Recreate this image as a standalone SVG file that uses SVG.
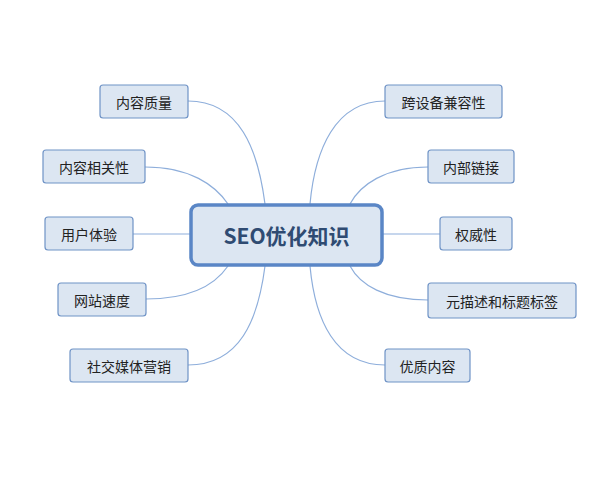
<svg xmlns="http://www.w3.org/2000/svg" width="600" height="488" viewBox="0 0 600 488">
<style>
.n rect{fill:#dce6f2;stroke:#6f93c6;stroke-width:1.2}
.n text{font-family:"Noto Sans CJK SC","Liberation Sans",sans-serif;font-size:14px;fill:#222;text-anchor:middle;dominant-baseline:central}
#connectors path{fill:none;stroke:#8eaedb;stroke-width:1.2}
</style>
<rect width="600" height="488" fill="#fff"/>
<g id="connectors">
<path d="M188,101 C240,101 258,150 265,204"/>
<path d="M145,167 C190,167 215,185 228,204"/>
<path d="M133,234 L190,234"/>
<path d="M146,299 C190,299 215,285 228,266"/>
<path d="M188,365 C240,365 258,320 265,266"/>
<path d="M385,101 C335,101 315,150 310,204"/>
<path d="M428,167 C385,167 360,185 350,204"/>
<path d="M383,234 L440,234"/>
<path d="M428,300 C385,300 360,285 350,266"/>
<path d="M385,365 C335,365 315,320 310,266"/>
</g>
<g id="center">
<rect x="191" y="205" width="191" height="60" rx="7" fill="#dce6f2" stroke="#5a86c6" stroke-width="3.5"/>
<text x="286.5" y="235" font-family="'Noto Sans CJK SC','Liberation Sans',sans-serif" font-size="21" font-weight="bold" fill="#2f4b72" text-anchor="middle" dominant-baseline="central">SEO优化知识</text>
</g>
<g id="n1" class="n"><rect x="100" y="85" width="88" height="33" rx="3"/><text x="144" y="101.5">内容质量</text></g>
<g id="n2" class="n"><rect x="43" y="150" width="102" height="33" rx="3"/><text x="94" y="166.5">内容相关性</text></g>
<g id="n3" class="n"><rect x="45" y="217" width="88" height="33" rx="3"/><text x="89" y="233.5">用户体验</text></g>
<g id="n4" class="n"><rect x="58" y="283" width="88" height="33" rx="3"/><text x="102" y="299.5">网站速度</text></g>
<g id="n5" class="n"><rect x="70" y="349" width="118" height="33" rx="3"/><text x="129" y="365.5">社交媒体营销</text></g>
<g id="n6" class="n"><rect x="385" y="85" width="117" height="33" rx="3"/><text x="443.5" y="101.5">跨设备兼容性</text></g>
<g id="n7" class="n"><rect x="428" y="150" width="86" height="33" rx="3"/><text x="471" y="166.5">内部链接</text></g>
<g id="n8" class="n"><rect x="440" y="217" width="72" height="33" rx="3"/><text x="476" y="233.5">权威性</text></g>
<g id="n9" class="n"><rect x="428" y="283" width="148" height="35" rx="3"/><text x="502" y="300.5">元描述和标题标签</text></g>
<g id="n10" class="n"><rect x="385" y="349" width="85" height="33" rx="3"/><text x="427.5" y="365.5">优质内容</text></g>
</svg>
